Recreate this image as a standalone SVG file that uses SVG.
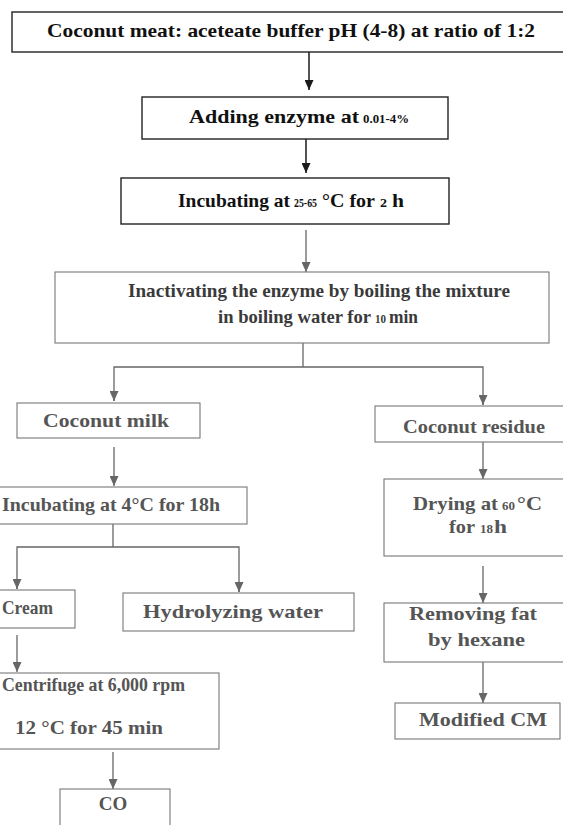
<svg xmlns="http://www.w3.org/2000/svg" width="563" height="825" viewBox="0 0 563 825">
<defs>
<marker id="ad" markerWidth="9" markerHeight="10" refX="4.5" refY="10" markerUnits="userSpaceOnUse" viewBox="0 0 9 10"><path d="M0,0 L9,0 L4.5,10 Z" fill="#1a1a1a"/></marker>
<marker id="ag" markerWidth="9" markerHeight="10" refX="4.5" refY="10" markerUnits="userSpaceOnUse" viewBox="0 0 9 10"><path d="M0,0 L9,0 L4.5,10 Z" fill="#666"/></marker>
<style>
.bd{fill:#fff;stroke:#222;stroke-width:1.4}
.bg{fill:#fff;stroke:#777;stroke-width:1.1}
text{font-family:"Liberation Serif","Times New Roman",serif;font-weight:bold;font-size:19px}
.td{fill:#111}
.t4{fill:#3a3a3a}
.tg{fill:#555}
.sm{font-size:12px}
.cd{fill:none;stroke:#1a1a1a;stroke-width:1.5}
.cg{fill:none;stroke:#666;stroke-width:1.3}
</style>
</defs>
<rect width="563" height="825" fill="#fff"/>
<g id="connectors">
<line class="cd" x1="309" y1="52" x2="309" y2="90" marker-end="url(#ad)"/>
<line class="cd" x1="306" y1="139" x2="306" y2="173" marker-end="url(#ad)"/>
<line class="cg" x1="306" y1="230" x2="306" y2="272" marker-end="url(#ag)"/>
<polyline class="cg" points="303,343 303,367"/>
<polyline class="cg" points="114,401 114,367 483,367 483,405"/>
<line class="cg" x1="114" y1="395" x2="114" y2="401" marker-end="url(#ag)"/>
<line class="cg" x1="483" y1="399" x2="483" y2="405" marker-end="url(#ag)"/>
<line class="cg" x1="114" y1="447" x2="114" y2="486" marker-end="url(#ag)"/>
<polyline class="cg" points="113,524 113,547"/>
<polyline class="cg" points="17,589 17,547 239,547 239,592"/>
<line class="cg" x1="17" y1="583" x2="17" y2="589" marker-end="url(#ag)"/>
<line class="cg" x1="239" y1="586" x2="239" y2="592" marker-end="url(#ag)"/>
<line class="cg" x1="17" y1="635" x2="17" y2="672" marker-end="url(#ag)"/>
<line class="cg" x1="113" y1="752" x2="113" y2="789" marker-end="url(#ag)"/>
<line class="cg" x1="483" y1="442" x2="483" y2="479" marker-end="url(#ag)"/>
<line class="cg" x1="483" y1="566" x2="483" y2="603" marker-end="url(#ag)"/>
<line class="cg" x1="483" y1="662" x2="483" y2="703" marker-end="url(#ag)"/>
</g>
<g id="n1">
<rect class="bd" x="12" y="12" width="570" height="40"/>
<text class="td" x="47" y="37" textLength="488" lengthAdjust="spacingAndGlyphs">Coconut meat: aceteate buffer pH (4-8) at ratio of 1:2</text>
</g>
<g id="n2">
<rect class="bd" x="142" y="97" width="306" height="42"/>
<text class="td" x="189" y="123" textLength="170" lengthAdjust="spacingAndGlyphs">Adding enzyme at</text>
<text class="td sm" x="363" y="123" textLength="46" lengthAdjust="spacingAndGlyphs">0.01-4%</text>
</g>
<g id="n3">
<rect class="bd" x="121" y="178" width="328" height="46"/>
<text class="td" x="178" y="207" textLength="112" lengthAdjust="spacingAndGlyphs">Incubating at</text>
<text class="td sm" x="294" y="207" textLength="23" lengthAdjust="spacingAndGlyphs">25-65</text>
<text class="td" x="322" y="207" textLength="53" lengthAdjust="spacingAndGlyphs">°C for</text>
<text class="td sm" x="380" y="207" textLength="7" lengthAdjust="spacingAndGlyphs">2</text>
<text class="td" x="392" y="207" textLength="12" lengthAdjust="spacingAndGlyphs">h</text>
</g>
<g id="n4">
<rect class="bg" x="55" y="272" width="494" height="71"/>
<text class="t4" x="128" y="297" textLength="382" lengthAdjust="spacingAndGlyphs">Inactivating the enzyme by boiling the mixture</text>
<text class="t4" x="218" y="323" textLength="153" lengthAdjust="spacingAndGlyphs">in boiling water for</text>
<text class="t4 sm" x="375" y="323" textLength="11" lengthAdjust="spacingAndGlyphs">10</text>
<text class="t4" x="389" y="323" textLength="29" lengthAdjust="spacingAndGlyphs">min</text>
</g>
<g id="n5">
<rect class="bg" x="17" y="403" width="183" height="35"/>
<text class="tg" x="43" y="427" textLength="126" lengthAdjust="spacingAndGlyphs">Coconut milk</text>
</g>
<g id="n6">
<rect class="bg" x="375" y="406" width="200" height="36"/>
<text class="tg" x="403" y="433" textLength="142" lengthAdjust="spacingAndGlyphs">Coconut residue</text>
</g>
<g id="n7">
<rect class="bg" x="-5" y="487" width="252" height="37"/>
<text class="tg" x="2" y="511" textLength="218" lengthAdjust="spacingAndGlyphs">Incubating at 4°C for 18h</text>
</g>
<g id="n8">
<rect class="bg" x="-10" y="590" width="85" height="38"/>
<text class="tg" x="2" y="614" textLength="51" lengthAdjust="spacingAndGlyphs">Cream</text>
</g>
<g id="n9">
<rect class="bg" x="123" y="593" width="231" height="38"/>
<text class="tg" x="143" y="618" textLength="180" lengthAdjust="spacingAndGlyphs">Hydrolyzing water</text>
</g>
<g id="n10">
<rect class="bg" x="-10" y="673" width="229" height="76"/>
<text class="tg" x="2" y="691" textLength="183" lengthAdjust="spacingAndGlyphs">Centrifuge at 6,000 rpm</text>
<text class="tg" x="15" y="734" textLength="148" lengthAdjust="spacingAndGlyphs">12 °C for 45 min</text>
</g>
<g id="n11">
<rect class="bg" x="60" y="789" width="110" height="45"/>
<text class="tg" x="113" y="810" text-anchor="middle">CO</text>
</g>
<g id="n12">
<rect class="bg" x="384" y="479" width="190" height="77"/>
<text class="tg" x="413" y="510" textLength="85" lengthAdjust="spacingAndGlyphs">Drying at</text>
<text class="tg sm" x="502" y="510" textLength="13" lengthAdjust="spacingAndGlyphs">60</text>
<text class="tg" x="517" y="510" textLength="25" lengthAdjust="spacingAndGlyphs">°C</text>
<text class="tg" x="449" y="533" textLength="26" lengthAdjust="spacingAndGlyphs">for</text>
<text class="tg sm" x="480" y="533" textLength="13" lengthAdjust="spacingAndGlyphs">18</text>
<text class="tg" x="494" y="533" textLength="13" lengthAdjust="spacingAndGlyphs">h</text>
</g>
<g id="n13">
<rect class="bg" x="384" y="603" width="190" height="59"/>
<text class="tg" x="409" y="620" textLength="128" lengthAdjust="spacingAndGlyphs">Removing fat</text>
<text class="tg" x="428" y="646" textLength="97" lengthAdjust="spacingAndGlyphs">by hexane</text>
</g>
<g id="n14">
<rect class="bg" x="395" y="703" width="165" height="36"/>
<text class="tg" x="419" y="726" textLength="128" lengthAdjust="spacingAndGlyphs">Modified CM</text>
</g>
</svg>
